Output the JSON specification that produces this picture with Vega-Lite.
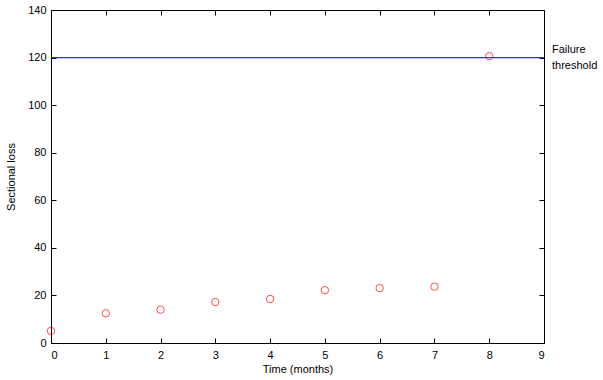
{
  "$schema": "https://vega.github.io/schema/vega-lite/v6.json",
  "width": 493,
  "height": 333,
  "autosize": {"type": "none"},
  "padding": {"left": 51, "top": 10, "right": 59, "bottom": 37},
  "background": "white",
  "config": {
    "font": "Liberation Sans",
    "view": {"stroke": "black", "strokeWidth": 1},
    "axis": {
      "grid": false,
      "domainColor": "black",
      "tickColor": "black",
      "labelColor": "black",
      "titleColor": "black",
      "labelFont": "Liberation Sans",
      "titleFont": "Liberation Sans",
      "labelFontSize": 11,
      "titleFontSize": 11,
      "titleFontWeight": "normal",
      "tickSize": -5
    }
  },
  "datasets": {
    "obs": [
      {"time": 0, "loss": 5.1},
      {"time": 1, "loss": 12.5},
      {"time": 2, "loss": 14.0},
      {"time": 3, "loss": 17.2},
      {"time": 4, "loss": 18.5},
      {"time": 5, "loss": 22.2},
      {"time": 6, "loss": 23.1},
      {"time": 7, "loss": 23.7},
      {"time": 8, "loss": 120.6}
    ],
    "thr": [{"time": 9, "loss": 120, "label": ["Failure", "threshold"]}]
  },
  "layer": [
    {
      "layer": [
        {
          "data": {"name": "thr"},
          "mark": {"type": "rule", "strokeWidth": 1.2},
          "encoding": {
            "y": {"field": "loss", "type": "quantitative", "scale": {"domain": [0, 140], "nice": false},
              "axis": {"values": [0,20,40,60,80,100,120,140], "title": "Sectional loss", "labelPadding": 10, "titlePadding": 11}},
            "color": {"value": "#2a2aff"}
          }
        },
        {
          "data": {"name": "obs"},
          "mark": {"type": "point", "shape": "circle", "filled": false, "strokeWidth": 1, "size": 55},
          "encoding": {
            "x": {"field": "time", "type": "quantitative", "scale": {"domain": [0, 9], "nice": false},
              "axis": {"values": [0,1,2,3,4,5,6,7,8,9], "format": "d", "title": "Time (months)", "labelPadding": 11, "titlePadding": 3}},
            "y": {"field": "loss", "type": "quantitative"},
            "color": {"value": "#ff0000"}
          }
        },
        {
          "data": {"name": "thr"},
          "mark": {"type": "text", "align": "left", "baseline": "middle", "dx": 8, "dy": -8, "fontSize": 11, "font": "Liberation Sans", "clip": false, "lineHeight": 16},
          "encoding": {
            "x": {"field": "time", "type": "quantitative"},
            "y": {"field": "loss", "type": "quantitative"},
            "text": {"field": "label"},
            "color": {"value": "black"}
          }
        }
      ]
    },
    {
      "data": {"name": "obs"},
      "mark": {"type": "point", "opacity": 0},
      "encoding": {
        "x": {"field": "time", "type": "quantitative", "scale": {"domain": [0, 9], "nice": false},
          "axis": {"orient": "top", "values": [0,1,2,3,4,5,6,7,8,9], "labels": false, "title": null}},
        "y": {"field": "loss", "type": "quantitative", "scale": {"domain": [0, 140], "nice": false},
          "axis": {"orient": "right", "values": [0,20,40,60,80,100,120,140], "labels": false, "title": null}}
      }
    }
  ],
  "resolve": {"scale": {"x": "independent", "y": "independent"}}
}
